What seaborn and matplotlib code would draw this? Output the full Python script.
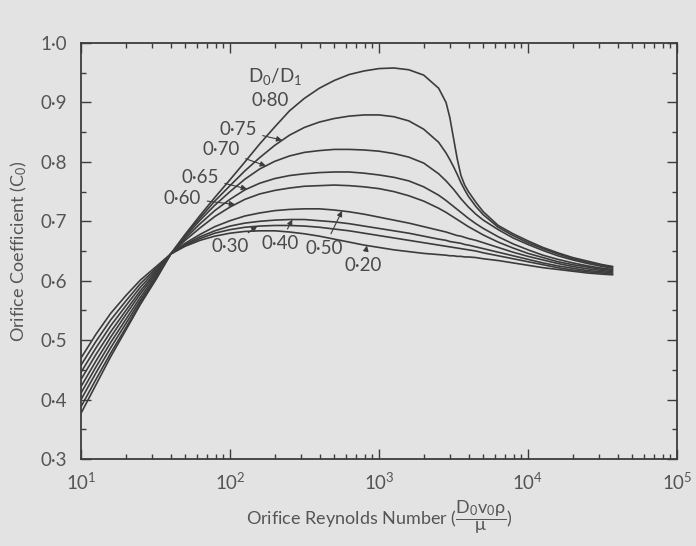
import numpy as np
import pandas as pd
import seaborn as sns
import matplotlib.pyplot as plt
from matplotlib.ticker import FixedLocator, MultipleLocator, LogLocator, NullFormatter

# Reynolds numbers read along the x axis (log scale)
reynolds = [10, 12.6, 15.8, 20, 25, 32, 40, 50, 63, 79, 100, 126, 158, 200, 251, 316, 398,
            501, 631, 794, 1000, 1259, 1585, 1995, 2512, 2818, 2985, 3162, 3350, 3548, 3758,
            3981, 4467, 5012, 6310, 7943, 10000, 12589, 15849, 19953, 25119, 31623, 37000]

# orifice coefficient for each diameter ratio D0/D1
c_080 = [.377, .425, .472, .517, .560, .603, .645, .678, .710, .740, .770, .800, .830, .859,
         .886, .907, .924, .937, .947, .953, .957, .958, .955, .946, .924, .900, .875, .840,
         .805, .777, .761, .750, .732, .716, .693, .679, .667, .656, .647, .639, .633, .627,
         .624]
c_075 = [.388, .434, .478, .521, .563, .604, .645, .677, .706, .734, .760, .785, .807, .828,
         .845, .858, .867, .873, .877, .879, .879, .876, .869, .855, .833, .815, .804, .792,
         .779, .765, .753, .742, .725, .711, .690, .676, .664, .654, .645, .637, .631, .626,
         .623]
c_070 = [.400, .445, .487, .528, .567, .606, .645, .674, .702, .727, .750, .771, .788, .801,
         .810, .816, .819, .821, .821, .820, .818, .814, .808, .798, .780, .768, .761, .754,
         .746, .738, .731, .724, .712, .702, .686, .672, .661, .651, .642, .635, .629, .624,
         .621]
c_065 = [.411, .455, .496, .535, .572, .609, .645, .671, .696, .718, .737, .753, .764, .772,
         .777, .780, .782, .783, .783, .781, .778, .774, .768, .758, .744, .735, .730, .725,
         .720, .715, .710, .705, .696, .688, .674, .662, .652, .643, .636, .630, .625, .621,
         .619]
c_060 = [.422, .465, .505, .543, .578, .612, .645, .668, .689, .708, .724, .737, .746, .752,
         .756, .759, .760, .761, .760, .758, .755, .750, .743, .734, .722, .715, .711, .707,
         .703, .699, .695, .691, .684, .677, .665, .655, .646, .639, .632, .627, .623, .619,
         .617]
c_050 = [.434, .476, .514, .550, .583, .615, .645, .663, .678, .691, .701, .709, .714, .718,
         .720, .721, .721, .719, .716, .712, .707, .702, .697, .691, .685, .682, .680, .678,
         .676, .675, .673, .671, .668, .664, .656, .648, .641, .635, .629, .624, .620, .617,
         .615]
c_040 = [.446, .487, .524, .558, .589, .618, .645, .661, .674, .684, .692, .697, .700, .702,
         .703, .703, .701, .699, .696, .692, .688, .684, .680, .675, .670, .668, .666, .665,
         .664, .663, .661, .660, .657, .654, .648, .642, .636, .630, .625, .621, .617, .615,
         .613]
c_030 = [.458, .498, .534, .566, .595, .621, .645, .659, .671, .680, .686, .690, .692, .693,
         .693, .692, .690, .687, .684, .680, .676, .672, .668, .664, .660, .658, .657, .656,
         .655, .654, .653, .652, .650, .647, .642, .637, .632, .627, .622, .618, .615, .613,
         .611]
c_020 = [.470, .510, .545, .575, .601, .624, .645, .658, .668, .675, .680, .683, .684, .684,
         .682, .679, .675, .670, .665, .660, .656, .652, .649, .646, .644, .643, .642, .642,
         .641, .641, .640, .640, .639, .637, .634, .630, .626, .622, .619, .616, .613, .611,
         .610]

ratios = ['0·80', '0·75', '0·70', '0·65', '0·60', '0·50', '0·40', '0·30', '0·20']
curves = [c_080, c_075, c_070, c_065, c_060, c_050, c_040, c_030, c_020]

# label text position (Re, C) and the Re where its arrow meets the curve
label_pos = {'0·75': (113, 0.854), '0·70': (87, 0.820), '0·65': (63, 0.774),
             '0·60': (48, 0.739), '0·30': (100, 0.658), '0·40': (217, 0.663),
             '0·50': (427, 0.655), '0·20': (780, 0.626)}
arrow_re = {'0·75': 224, '0·70': 174, '0·65': 130, '0·60': 108,
            '0·30': 152, '0·40': 262, '0·50': 565, '0·20': 830}

df = pd.DataFrame()
for r, c in zip(ratios, curves):
    df = pd.concat([df, pd.DataFrame({'Re': reynolds, 'C': c, 'ratio': r})])

sns.set_theme(style='ticks')
plt.rcParams['font.family'] = ['Lato', 'DejaVu Sans']
plt.rcParams['mathtext.fontset'] = 'custom'
plt.rcParams['mathtext.rm'] = 'Lato'
plt.rcParams['mathtext.it'] = 'Lato'

bg = '#e3e3e3'
ink = '#3c3c3c'
txt = '#4a4a4a'
fig = plt.figure(figsize=(6.96, 5.46), dpi=100, facecolor=bg)
ax = fig.add_axes([0.1164, 0.1593, 0.8563, 0.7619])
ax.set_facecolor(bg)

sns.lineplot(data=df, x='Re', y='C', hue='ratio', palette=[ink] * len(ratios),
             legend=False, linewidth=1.2, ax=ax, sort=False)

ax.set_xscale('log')
ax.set_xlim(10, 1e5)
ax.set_ylim(0.3, 1.0)

ax.xaxis.set_major_locator(FixedLocator([10, 100, 1000, 1e4, 1e5]))
ax.set_xticklabels(['10$^1$', '10$^2$', '10$^3$', '10$^4$', '10$^5$'])
ax.xaxis.set_minor_locator(LogLocator(base=10, subs=np.arange(2, 10)))
ax.xaxis.set_minor_formatter(NullFormatter())
yt = [0.3, 0.4, 0.5, 0.6, 0.7, 0.8, 0.9, 1.0]
ax.yaxis.set_major_locator(FixedLocator(yt))
ax.set_yticklabels([f'{v:.1f}'.replace('.', '·') for v in yt])
ax.yaxis.set_minor_locator(MultipleLocator(0.05))

ax.tick_params(which='both', direction='in', top=True, right=True, color=ink,
               labelcolor='#555555', labelsize=13.5, width=1.0)
ax.tick_params(which='major', length=7)
ax.tick_params(which='minor', length=3.5)
ax.tick_params(axis='x', pad=9)
ax.tick_params(axis='y', pad=10)
for s in ax.spines.values():
    s.set_color(ink)
    s.set_linewidth(1.3)

ax.set_xlabel(r'Orifice Reynolds Number ($\dfrac{\mathrm{D_0 v_0 \rho}}{\mu}$)',
              fontsize=13, color='#555555', labelpad=4)
ax.set_ylabel('Orifice Coefficient (C$_0$)', fontsize=13, color='#555555', labelpad=8)

# curve labels
ax.text(200, 0.943, 'D$_0$/D$_1$', fontsize=13.5, color=txt, ha='center', va='center')
ax.text(185, 0.904, '0·80', fontsize=13.5, color=txt, ha='center', va='center')
for r, c in zip(ratios, curves):
    if r not in label_pos:
        continue
    tx, ty = label_pos[r]
    xr = arrow_re[r]
    yr = np.interp(np.log10(xr), np.log10(reynolds), c)
    ax.annotate(r, xy=(xr, yr), xytext=(tx, ty), fontsize=13.5, color=txt,
                ha='center', va='center',
                arrowprops=dict(arrowstyle='-|>', color=ink, lw=0.8,
                                mutation_scale=8, shrinkA=2, shrinkB=0))

fig.savefig('out.png', dpi=100, facecolor=bg)
